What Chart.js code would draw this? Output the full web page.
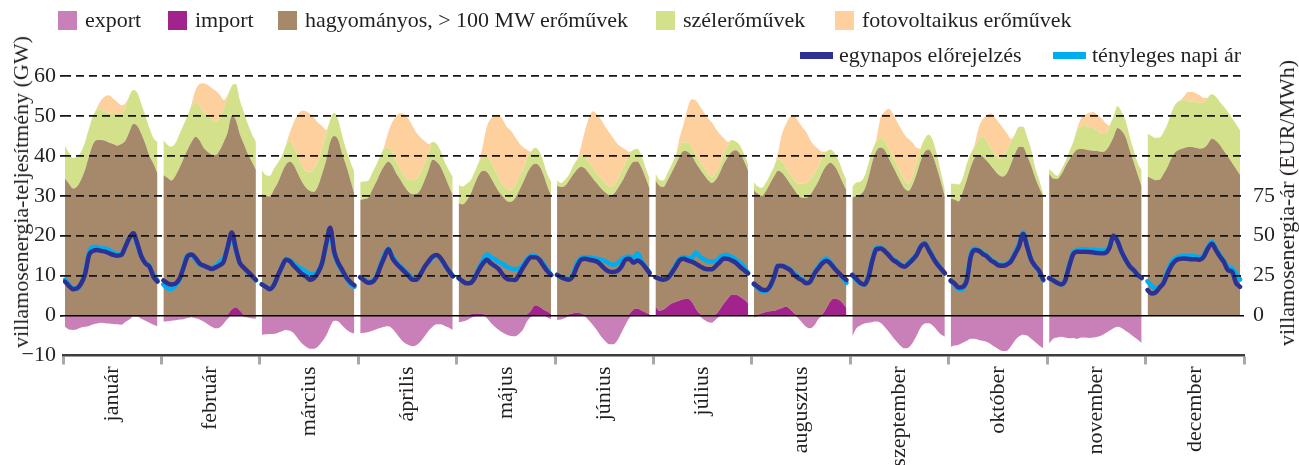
<!DOCTYPE html>
<html><head><meta charset="utf-8">
<script src="https://cdn.jsdelivr.net/npm/chart.js@4.4.1/dist/chart.umd.min.js"></script>
<style>
body{margin:0;background:#fff;}
#wrap{position:relative;width:1299px;height:465px;overflow:hidden;font-family:'Liberation Serif','Times New Roman',serif;color:#231f20;}
canvas{position:absolute;left:0;top:0;}
.lg{position:absolute;font-size:22px;line-height:22px;white-space:nowrap;}
.sw{position:absolute;width:19px;height:19px;}
.ln{position:absolute;width:33px;height:7px;}
.ttl{position:absolute;font-size:22px;line-height:22px;white-space:nowrap;transform:translate(-50%,-50%) rotate(-90deg);}
</style></head>
<body><div id="wrap"><canvas id="c" width="1299" height="465"></canvas>
<div id="legend"></div>
<div class="ttl" style="left:21px;top:192px;">villamosenergia-teljesítmény (GW)</div>
<div class="ttl" style="left:1287px;top:203px;">villamosenergia-ár (EUR/MWh)</div>
</div>
<script>
const months = ['január','február','március','április','május','június','július','augusztus','szeptember','október','november','december'];
const yTicksPrice = [0,25,50,75];

const exportGW = [
[-2.8,-3.5,-3.6,-3.4,-3,-2.8,-2.6,-2.2,-2,-1.8,-1.9,-2,-2.1,-2.2,-2.3,-1.6,-1,-0.3,-0.3,-0.8,-1.3,-1.8,-2.3,-2.7],
[-1.5,-1.4,-1.3,-1.2,-1,-0.9,-0.6,-0.4,-0.7,-1,-1.5,-2.2,-2.8,-3.2,-3,-2,-0.8,0,0,0,-0.3,-0.5,-0.7,-0.8],
[-4.8,-4.7,-4.6,-4.6,-4.3,-3.9,-3.6,-3.8,-4.5,-5.8,-7,-7.8,-8.3,-8.3,-7.7,-6.5,-5,-2.8,-1.3,-1.5,-2.5,-3.5,-4.2,-4.5],
[-4.4,-4.3,-4.1,-3.8,-3.4,-3.1,-2.8,-2.7,-3.3,-4.5,-5.8,-6.8,-7.4,-7.7,-7.4,-6.5,-5.2,-3.8,-2.8,-2.2,-2.2,-2.6,-3,-3.6],
[-1.7,-1.5,-1.2,-0.6,-0.2,0,0,-0.6,-1.8,-2.8,-3.6,-4.3,-4.8,-5.1,-5.2,-4.6,-3.5,-1.5,-0.3,0,0,0,-0.4,-0.9],
[-1.1,-1,-0.6,-0.2,0,0,0,-0.3,-1.3,-2.5,-3.8,-5.3,-6.4,-7.2,-7.2,-6.2,-4.3,-2.3,-0.6,0,0,0,0,-0.3],
[0,0,0,0,0,0,0,0,0,0,0,-0.2,-1,-1.6,-1.8,-1,-0.2,0,0,0,0,0,0,0],
[-0.5,-0.2,0,0,0,0,0,0,0,0,0,-0.7,-1.8,-2.8,-3.2,-2.5,-0.9,-0.1,0,0,0,0,0,0],
[-5.2,-3.2,-2.5,-2,-1.8,-1.6,-1.5,-1.8,-2.8,-4,-5.3,-6.5,-7.6,-8.2,-8,-6.8,-5,-3,-2,-1.9,-2.5,-3.6,-4.7,-5.3],
[-7.8,-7.5,-7.3,-6.8,-6.3,-5.8,-5.8,-6.1,-6.3,-6.6,-7.2,-7.9,-8.5,-8.9,-8.8,-7.7,-6.2,-5.2,-4.8,-5,-5.8,-6.6,-7.5,-8.2],
[-7,-5.8,-5.5,-5.3,-5.5,-5.7,-5.6,-5.8,-5.5,-5.5,-5.6,-5.5,-5.3,-5,-4.4,-3.8,-3.2,-2.8,-3.1,-3.8,-4.5,-5.3,-6,-6.9],
[0,0,0,0,0,0,0,0,0,0,0,0,0,0,0,0,0,0,0,0,0,0,0,0]
];
const importGW = [
[0,0,0,0,0,0,0,0,0,0,0,0,0,0,0,0,0,0,0,0,0,0,0,0],
[0,0,0,0,0,0,0,0,0,0,0,0,0,0,0,0,0.3,1.5,2.1,1.3,0.2,0,0,0],
[0,0,0,0,0,0,0,0,0,0,0,0,0,0,0,0,0,0,0,0,0,0,0,0],
[0,0,0,0,0,0,0,0,0,0,0,0,0,0,0,0,0,0,0,0,0,0,0,0],
[0,0,0.1,0.3,0.5,0.5,0.4,0.1,0,0,0,0,0,0,0,0,0,0.3,1.3,2.6,2.3,1.6,1,0.4],
[0,0,0,0.3,0.6,0.7,0.5,0.1,0,0,0,0,0,0,0,0,0,0,0.4,1.5,1.8,1.3,0.8,0.3],
[2.3,1.2,1.5,2.3,3,3.4,3.8,4.1,4.3,3.5,1.8,0.5,0,0,0,0.3,1.5,3,4.3,5.2,5.2,4.7,4,3.1],
[0,0.2,0.6,0.9,1.1,1.2,1.5,1.9,2.3,1.6,0.6,0,0,0,0,0,0,0.3,1.8,3.6,4.3,4,3.2,1.9],
[0,0,0,0,0,0,0,0,0,0,0,0,0,0,0,0,0,0,0,0,0,0,0,0],
[0,0,0,0,0,0,0,0,0,0,0,0,0,0,0,0,0,0,0,0,0,0,0,0],
[0,0,0,0,0,0,0,0,0,0,0,0,0,0,0,0,0,0,0,0,0,0,0,0],
[0,0,0,0,0,0,0,0,0,0,0,0,0,0,0,0,0,0,0,0,0,0,0,0]
];
const conventionalGW = [
[34.3,33,31.8,32.3,34,36.5,40,43,44,44,43.8,43.3,43,42.6,43,43.8,46,48,47.5,45.5,43,40,38,35.6],
[35.2,34.5,33.8,35,37,39.3,41.5,43.5,44.8,43.9,42,41,40.3,40.2,41.4,43.5,45.7,48.5,46.9,44.2,42.8,40.5,38.5,36.5],
[30.4,30,29.8,31.5,33.3,35.8,37.8,38.5,37.6,35.5,33.5,32,31.2,31,32.5,35.5,38.9,43.5,45,44,40.5,37.5,34,30.5],
[29,29.2,29.5,31.5,33.5,35.8,37.5,38.5,37.5,35.5,34,32.3,31,30.4,30.5,31.6,33.9,36.5,39,38.5,37.2,35,32.5,30.2],
[28.1,27.8,28.7,30.2,32.5,34.7,35.9,35.9,34.5,32.7,31,29.8,28.7,28.5,29.3,31.2,33.3,35.3,36,35.4,35.2,33.9,31.5,29.6],
[32.5,32.2,32.5,33.5,34.7,35.9,36.8,36.7,35.5,34.2,33,31.8,30.8,30.2,30.4,31.7,33.3,35.2,36.8,37,36.8,35.7,33.7,31.5],
[31.6,31.3,30.7,31.5,32.8,34.4,36,37.1,36.7,36.5,36.5,36.3,35.3,34,33.2,33.7,34.3,35,35.4,35.8,36.2,35.8,34.8,33.3],
[31.4,30.3,29.4,30.3,31.9,33.6,34.8,33.9,32.2,31.4,31,30.2,29.5,29.5,30.2,31.8,33.6,35.5,35.7,34.7,33.2,31.8,30.3,29.5],
[29.5,30,30.3,31.5,34.5,38.5,41.3,42.1,41.5,39.5,37.5,35.5,33.5,31.8,31.2,32.8,35.5,38.7,41,41.6,40,37,33.5,29.8],
[29.3,29,28.6,31,34,37.3,39.6,40.2,39.8,38.7,37.5,36.3,35.2,34.8,35.7,38,40.5,42.3,42.2,40,37.5,34.5,32,29.8],
[35.6,34.3,34.2,35.3,37.3,39,40.5,41.6,41.7,41.6,41.4,41.3,41.2,41,41.3,42.6,44.7,47,46.3,44.7,41.5,38.5,35.3,32.3],
[34.8,34.3,33.9,34,35.5,37.3,39.5,41,41.6,41.9,42.2,42.2,42,41.8,42,43,44.3,43.8,42.7,41.2,39.8,38.3,36.8,35.2]
];
const windGW = [
[8.1,7.8,7.7,7.5,7,7,7,7,7.5,7.5,7.2,7.5,7.5,7.9,7.5,8.2,9,8.5,8.3,7.5,7,7,6.5,7.9],
[8.7,8.3,8.5,8.2,8.5,8.4,8.5,8.8,8.7,8.6,9,9.3,8.9,8.3,8.3,8.5,9,7.5,9,8.5,8,7.5,7,7],
[6,5.2,5.2,5.3,5,4.2,4.7,5.5,4.4,4.5,4,4.2,4.8,5.8,6,6.5,6.6,5.5,5.8,5,4.5,4,4.5,5.5],
[4.5,4.4,4.3,4.3,4.2,4.2,4.3,3.5,3.3,3,2.6,2.7,3,3.5,3.8,4.2,4.1,4,4.5,4.5,4,3.5,4,4.5],
[4.6,4.5,4.2,3.4,3,3.1,3.4,3.8,4,3.8,3.5,3,2.9,2.9,3.2,3.6,3.1,3.9,3.7,4,3.7,3.3,3,3.5],
[1.3,1,1.5,1.5,2.2,2.4,2.7,2.9,2.8,2.8,2.5,2.4,2.4,2.1,2.1,2.3,2.7,3.1,3.3,3,3.2,3,2.5,2.5],
[1.7,1.5,1.6,1.9,2,2.2,2.5,2.2,2.2,2.3,2.1,2,1.9,1.5,1.6,1.8,2,2.4,2.9,3,2.2,2.1,1.7,1.6],
[2,1.8,2,2.1,2.2,2.5,2.9,2.7,2.5,2.3,2.4,2.8,3.5,3.7,3.8,3.7,3.7,3.7,3.5,3.3,3.3,3.2,2.8,2.5],
[2.7,3.3,3.2,3.3,3.5,3,2.2,2.4,2.3,2.5,2.5,2.5,2.3,2.2,1.8,2.2,2.8,3.1,3.3,3.7,4,3.5,2.5,1.7],
[3.8,4,4.2,3.5,4,3.3,2.7,4.1,5,5.1,4.3,4,4.1,5.2,5.7,5.5,5,5,5.1,4.8,4,2.5,2,0.8],
[1.2,1.5,0.8,1.2,1.2,2,3,4.8,5.6,5.9,5.9,5.7,5.1,4.5,4.2,4.9,5.1,5.5,4.7,4.2,3.5,3,2.9,4.1],
[10.8,10.7,10.6,10.6,10.5,10.8,11.5,12,12.2,12.1,11.6,11.4,11.5,11.5,11.5,11.6,11.1,11,10.8,11.1,11.2,11.2,11.2,11.2]
];
const solarGW = [
[0,0,0,0,0,0,0,0,0.6,2.4,3.9,4.4,3.8,3,2.2,1.1,0,0,0,0,0,0,0,0],
[0,0,0,0,0,0,0,0.7,3,5.5,7.2,7.5,7.8,7.8,5.6,2,0.3,0,0,0,0,0,0,0],
[0,0,0,0,0,0,0.3,2,6.5,10.3,13.8,15,14.5,12.7,9.8,5.5,1,0,0,0,0,0,0,0],
[0,0,0,0,0,0,0.7,4,7.7,11.5,14.1,15.4,15.2,13.6,11.5,8.8,5.7,2.5,0,0,0,0,0,0],
[0,0,0,0,0,0,2.8,7.5,10.8,13.7,15.8,16.2,15.6,14.9,12.3,8.5,5.8,2,0,0,0,0,0,0],
[0,0,0,0,0,0,2.5,6.8,11.5,14.2,14.8,14.8,14.1,13.5,11.9,9,6.2,3.3,0.5,0,0,0,0,0],
[0,0,0,0,0,0,2.2,4.6,8.8,11.9,13.5,13.7,13.8,14,13.6,11,7.7,4,0.9,0,0,0,0,0],
[0,0,0,0,0,0,1.6,7,11,14.5,16.2,15.7,14.2,12.8,10,7.1,4.5,1.5,0,0,0,0,0,0],
[0,0,0,0,0,0,0.8,5,7.2,9.8,10.8,10.8,11.2,11.3,11.2,8.3,3.7,0,0,0,0,0,0,0],
[0,0,0,0,0,0,0.7,2.9,4.4,6.4,8.9,9.3,9,7,4.2,0.8,0,0,0,0,0,0,0,0],
[0,0,0,0,0,0,0,0.6,2.2,2.8,3.5,4,3.9,4,2.7,0.1,0,0,0,0,0,0,0,0],
[0,0,0,0,0,0,0,0,0,0.8,2.2,2.4,2.2,1.9,1,0,0,0,0,0,0,0,0,0]
];
const forecastPrice = [
[21.3,18.5,16.5,17,20,26,38,40.5,41,40.5,40,39,38,37.5,38,43,48.5,51.5,45,37,32.7,30.6,24.4,21.3],
[22,20.3,19.5,20,23,30,37,38.3,36,32.7,31.3,30.2,29.2,30.2,31.5,33.8,43,52,42,33,30,27.5,25,22.3],
[19.5,18,16.5,19,25,30.5,35,34,31,28.5,26,24.5,22.5,23.5,27,33,45,55,40,33,28.5,24,21,19],
[24,22,20.5,21,24,30.5,36.5,41.5,36,32.5,30,27.5,25,22.5,22.5,26,30.5,34,37,38,36,32,28,24.5],
[23.5,21.5,20.2,20.5,23.5,28.5,32.5,35,32.7,31,29,25.5,23,22.5,22.3,25.5,30,34,36.5,36.5,35.2,31.5,28,25.4],
[25.5,24,23,22.5,25,31,35,35.5,35,34.5,33.7,31.5,29,27.5,27.3,28,30.6,35,35.5,33,34.5,33,30,26.5],
[24,23,22.5,23.3,26.5,30.5,34.5,35.5,34.5,33.8,32.5,31,29.5,29,29,31,33.5,35.8,35.5,34.5,33,30.6,28.5,26.5],
[20,18,16.3,16,18.3,24,31,31,30,28.5,25.5,23.5,22,20.2,21.2,26,29.5,32.7,34.4,32.7,29.6,27,24.4,22.3],
[25.5,23,20.5,19.5,24,34.5,41.5,42,40.5,38,35,33.5,31.5,30.6,32.5,35,38,43,45,41,36.5,32.5,29.5,26.5],
[22,20,17.5,18,22,37,41,40.5,38.5,37,34.5,33,31.3,31.2,32,34,38.5,43.5,51,43,35,31,28,22.5],
[23.5,22,20.5,19.5,22,31,38.5,40,40,40,39.8,39.5,39.2,39,39.3,42.5,50,46.5,40,35,31,28.5,25.5,23.5],
[16,13.8,14.5,17.5,20.5,26.5,31.5,34.5,35.5,35.8,35.5,35.2,35.2,35,37,42,45,41,37,33.5,28.5,27.5,20.5,18]
];
const actualPrice = [
[22.5,19.5,17,17,20,27,39.5,43,43,42,42,41,39.5,38.5,38.5,43,48.5,50.5,44,37,33,31,25.5,22],
[19.5,17,16.5,19,22.5,30.5,38,38,35,32,31,30.5,30,31,33.5,36,43,50,41,33,30,27,24.5,22],
[19.5,18,16.5,19,25,30.5,35.5,34.5,32.5,30.5,29,27.5,26,26,28,33,44,53,39,32,28,23.5,20,18],
[24,22.5,21,21.5,24.5,31.5,38,42,37,33.5,31,28.5,26,23.5,23,26,30.5,33.5,36.5,37.5,35.5,31.5,28.5,25],
[23.5,21.5,20.2,20.8,24,29.5,34.5,38.3,36.5,35.3,33.5,32.3,30.5,29.6,29,29.5,31.5,35.5,37.3,37.5,35.5,33,29,25.4],
[25.5,24,23,23,26,33,36,36.5,36.5,36,35.5,35,34.2,32.5,31.8,32.7,35,36.5,37,36,39,34,30.5,26.9],
[24,23,22.5,23.5,27,31.5,35.5,36.5,36,36,39.5,37,35.3,34,33.8,34,36.3,37.8,38,36.5,35,33,30.5,26.5],
[19.5,17,15.2,15.3,18,24,31.5,31.5,30.5,29,26.5,24.5,22.5,20.5,21.5,26.5,30.5,34,35.8,33.5,30,27,24,20.5],
[25.5,22.5,20,19.5,25,35.5,42.5,42.5,41,38.5,35.5,34,32,31,33,35.5,38.5,43.5,45.5,41.5,37,33,29.5,26.5],
[21.5,19,16.5,16.5,23,38.5,42,41,39,37.5,35,33.5,31.8,31.8,32.5,34.5,39.5,45,52,44,35,31,27.5,22],
[23.5,22,20.5,19.5,22.5,32,39.5,41,41.5,41.5,41.3,41.2,41,40.8,40.8,43.5,50.5,46.5,40,35,31,28.5,25.5,23.5],
[21.5,18.5,17,18,21,28,33.5,36,37,37.5,37.5,37.3,37,36.5,38,43,46,42,38,34,30.5,29.5,26.5,22.5]
];

const COLORS = {export:'#c97fb7', import:'#a3238e', conv:'#a6886a', wind:'#d4e18b', solar:'#fdd09e', fc:'#2e3192', act:'#00aeef'};

// each month panel occupies [m+0.02, m+0.96] on the x scale; a null point breaks panels
function series(values){
  const pts=[];
  values.forEach((month,m)=>{
    month.forEach((v,h)=>pts.push({x:m+0.02+h*0.94/23,y:v}));
    if(m<values.length-1) pts.push({x:m+0.99,y:null});
  });
  return pts;
}
const area = (label,data,color,fill,stack)=>({type:'line',label,data:series(data),yAxisID:'y',stack,backgroundColor:color,borderColor:'rgba(0,0,0,0)',borderWidth:0,pointRadius:0,fill,cubicInterpolationMode:'monotone'});
const line = (label,data,color)=>({type:'line',label,data:series(data),yAxisID:'y2',borderColor:color,backgroundColor:color,borderWidth:4.5,pointRadius:0,fill:false,cubicInterpolationMode:'monotone',borderJoinStyle:'round',borderCapStyle:'round'});

const datasets=[
  line('egynapos előrejelzés',forecastPrice,COLORS.fc),
  line('tényleges napi ár',actualPrice,COLORS.act),
  area('import',importGW,COLORS.import,'origin','supply'),
  area('hagyományos, > 100 MW erőművek',conventionalGW,COLORS.conv,'-1','supply'),
  area('szélerőművek',windGW,COLORS.wind,'-1','supply'),
  area('fotovoltaikus erőművek',solarGW,COLORS.solar,'-1','supply'),
  area('export',exportGW,COLORS.export,'origin','export')
];

// HTML legend
const legendItems=[
  {t:'export',c:COLORS.export,x:58,y:9,k:'sw'},
  {t:'import',c:COLORS.import,x:168,y:9,k:'sw'},
  {t:'hagyományos, > 100 MW erőművek',c:COLORS.conv,x:278,y:9,k:'sw'},
  {t:'szélerőművek',c:COLORS.wind,x:656,y:9,k:'sw'},
  {t:'fotovoltaikus erőművek',c:COLORS.solar,x:835,y:9,k:'sw'},
  {t:'egynapos előrejelzés',c:COLORS.fc,x:800,y:44,k:'ln'},
  {t:'tényleges napi ár',c:COLORS.act,x:1053,y:44,k:'ln'}
];
const lg=document.getElementById('legend');
legendItems.forEach(it=>{
  const s=document.createElement('div'); s.className=it.k; s.style.background=it.c;
  s.style.left=it.x+'px';
  s.style.top=(it.k==='sw'? it.y+2 : it.y+8)+'px';
  lg.appendChild(s);
  const t=document.createElement('div'); t.className='lg'; t.textContent=it.t;
  t.style.left=(it.x+(it.k==='sw'?27:39))+'px'; t.style.top=it.y+'px';
  lg.appendChild(t);
});

Chart.defaults.font.family="'Liberation Serif','Times New Roman',serif";
Chart.defaults.font.size=22;
Chart.defaults.color='#231f20';

new Chart(document.getElementById('c'),{
  type:'line',
  data:{datasets},
  options:{
    responsive:false, animation:false, events:[],
    layout:{padding:{top:76,left:0,right:0,bottom:0}},
    plugins:{legend:{display:false},tooltip:{enabled:false}},
    scales:{
      x:{type:'linear',min:0,max:12,
        afterBuildTicks:s=>{s.ticks=[];for(let k=0;k<=24;k++)s.ticks.push({value:k/2});},
        afterFit:s=>{s.height=109.5;},
        ticks:{autoSkip:false,maxRotation:90,minRotation:90,padding:2,font:{size:22},
          callback:v=>{const r=v%1;return Math.abs(r-0.5)<1e-6?months[Math.floor(v)]:'';}},
        grid:{drawOnChartArea:false,drawTicks:true,tickLength:9,tickWidth:3,
          tickColor:c=>(c.tick && Math.abs(c.tick.value%1)<1e-6)?'#a7a9ac':'rgba(0,0,0,0)'},
        border:{display:true,color:'#3d3d3d',width:2.5}
      },
      y:{type:'linear',position:'left',stacked:true,min:-10,max:60,
        afterFit:s=>{s.width=63;},
        ticks:{stepSize:10,padding:4,font:{size:22},callback:v=>v<0?'\u2212'+Math.abs(v):String(v)},
        grid:{z:1,lineWidth:1.8,tickLength:3,
          color:c=>(c.tick&&(c.tick.value===-10||c.tick.value===0))?'rgba(0,0,0,0)':'#161616',
          tickColor:c=>(c.tick&&c.tick.value===-10)?'rgba(0,0,0,0)':'#161616',
          tickBorderDash:[]},
        border:{display:false,dash:[8,5]}
      },
      y2:{type:'linear',position:'right',stacked:false,min:-25,max:150,
        afterBuildTicks:s=>{s.ticks=yTicksPrice.map(v=>({value:v}));},
        afterFit:s=>{s.width=55;},
        ticks:{padding:9,font:{size:22}},
        grid:{z:1,drawTicks:false,lineWidth:1.6,color:c=>(c.tick&&c.tick.value===0)?'#000':'rgba(0,0,0,0)'},
        border:{display:false}
      }
    }
  }
});
</script>
</body></html>
